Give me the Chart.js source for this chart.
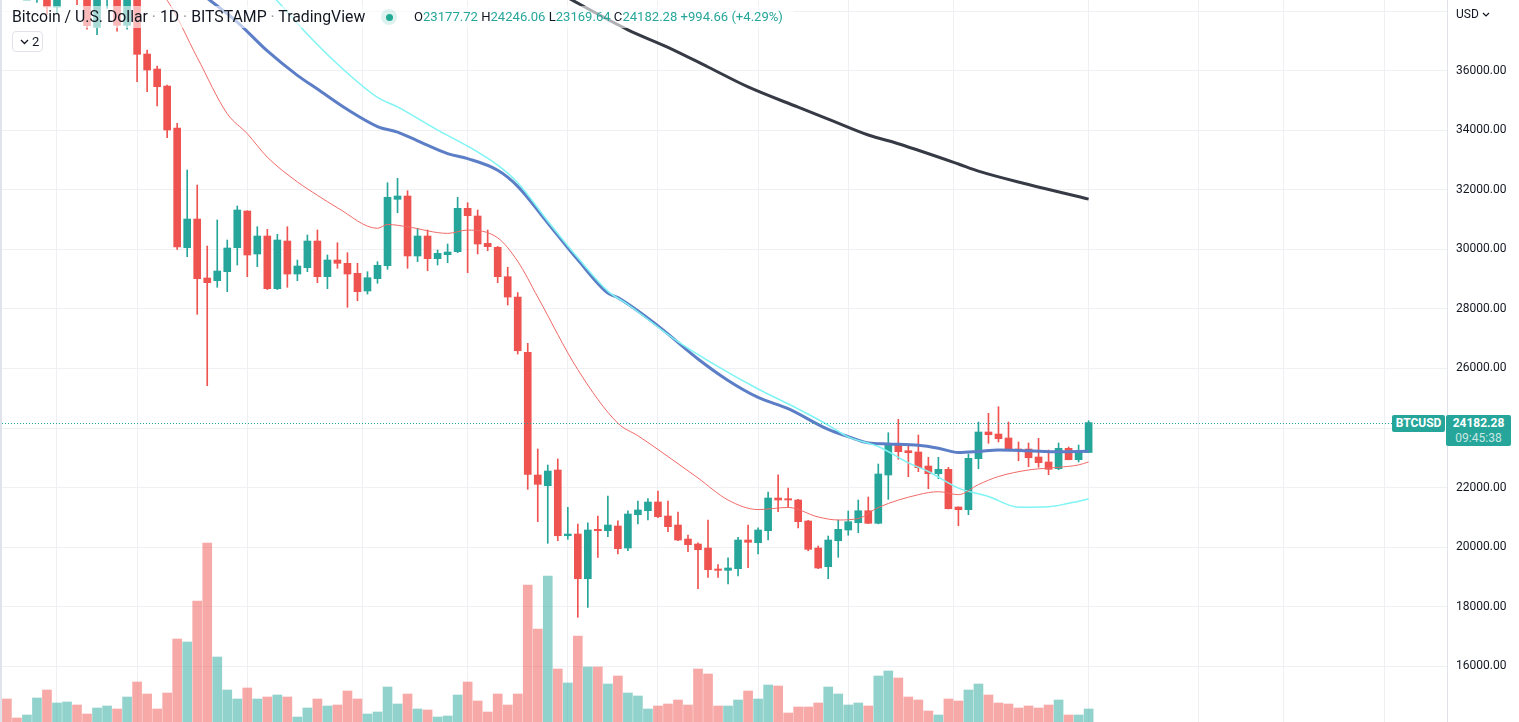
<!DOCTYPE html>
<html>
<head>
<meta charset="utf-8">
<script src="https://cdn.jsdelivr.net/npm/chart.js@4.4.1/dist/chart.umd.min.js"></script>
<style>
    html, body { margin: 0; padding: 0; background: #fff; overflow: hidden; }
    #wrap { position: relative; width: 1519px; height: 722px; font-family: Roboto, "Noto Sans", sans-serif; color: #131722; }
    #btc { position: absolute; left: 2px; top: 0; }
    #edge { position: absolute; left: 0; top: 0; width: 2px; height: 722px; background: #e0e3eb; }
    #legendBg { position: absolute; left: 2px; top: 6px; width: 792px; height: 22px; background: rgba(255,255,255,0.6); }
    #title { position: absolute; left: 12px; top: 5px; line-height: 24px; font-size: 14px; white-space: nowrap; }
    #title .sep { color: #9598a1; }
    #dot { position: absolute; left: 381px; top: 9px; width: 16px; height: 16px; border-radius: 50%; background: rgba(34,171,148,0.15); }
    #dot::after { content: ''; position: absolute; left: 4.5px; top: 4.5px; width: 7px; height: 7px; border-radius: 50%; background: #22ab94; }
    #ohlc { position: absolute; left: 414px; top: 5px; line-height: 24px; font-size: 13px; white-space: nowrap; color: #26a69a; }
    #ohlc .k { color: #131722; }
    #count { position: absolute; left: 12px; top: 31px; width: 29px; height: 19px; border: 1px solid #e0e3eb; border-radius: 4px; background: #fff; font-size: 13px; line-height: 19px; }
    #count svg { position: absolute; left: 7px; top: 7px; }
    #count span { position: absolute; left: 19px; top: 0; }
    #usd { position: absolute; left: 1456px; top: 5px; font-size: 12px; line-height: 18px; }
    #usd svg { margin-left: 3px; vertical-align: 1px; }
    .badge { position: absolute; background: #26a69a; color: #fff; font-size: 12px; font-weight: bold; border-radius: 2px; text-align: center; }
    #symBadge { left: 1392px; width: 53px; height: 17px; line-height: 17px; }
    #priceBadge { left: 1446px; width: 65px; height: 31px; line-height: 15px; padding-top: 1px; box-sizing: border-box; }
    #priceBadge .t { font-weight: normal; color: rgba(255,255,255,0.75); }
</style>
</head>
<body>
<div id="wrap">
    <canvas id="btc" width="1517" height="722"></canvas>
    <div id="edge"></div>
    <div id="legendBg"></div>
    <div id="title">Bitcoin / U.S. Dollar <span class="sep">·</span> 1D <span class="sep">·</span> BITSTAMP <span class="sep">·</span> TradingView</div>
    <div id="dot"></div>
    <div id="ohlc"><span class="k">O</span>23177.72 <span class="k">H</span>24246.06 <span class="k">L</span>23169.64 <span class="k">C</span>24182.28 +994.66 (+4.29%)</div>
    <div id="count"><svg width="9" height="6" viewBox="0 0 9 6"><path d="M1 1l3.5 3.5L8 1" fill="none" stroke="#131722" stroke-width="1.3"/></svg><span>2</span></div>
    <div id="usd">USD<svg width="8" height="5" viewBox="0 0 8 5"><path d="M1 1l3 3 3-3" fill="none" stroke="#131722" stroke-width="1.2"/></svg></div>
    <div id="symBadge" class="badge">BTCUSD</div>
    <div id="priceBadge" class="badge">24182.28<br><span class="t">09:45:38</span></div>
</div>
<script>
// daily candles, BTC/USD Bitstamp, one entry per day (index 0 = first visible day)
const opens = [
    40500, 39700, 39450, 39450, 40400, 38140, 39250, 39750, 38600, 37460,
    38470, 38520, 37530, 39700, 36566, 36062, 35490, 34080, 30058, 31022,
    29040, 28950, 29252, 30058, 31291, 29846, 30451, 28681, 30283, 29174,
    29386, 30283, 29084, 29645, 29534, 29198, 28603, 29017, 29453, 31684,
    31795, 29780, 30451, 29689, 29823, 29924, 31382, 31123, 30206, 30072,
    29084, 28400, 26544, 22421, 22061, 22589, 20381, 20438, 18936, 20596,
    20549, 20707, 19968, 21087, 21221, 21514, 21043, 20741, 20270, 20102,
    19968, 19262, 19218, 19273, 20237, 20146, 20549, 21648, 21625, 21581,
    20875, 19968, 19340, 20213, 20573, 20818, 21221, 20798, 22421, 23429,
    23237, 23194, 22723, 22464, 22612, 21346, 21255, 22969, 23866, 23798,
    23664, 23294, 23294, 23026, 22858, 22632, 23318, 22935, 23177.72
];
const highs = [
    40800, 39900, 39900, 40600, 40800, 39400, 40000, 39900, 38800, 38700,
    39150, 38650, 39900, 39800, 36700, 36163, 35525, 34238, 32669, 32165,
    30115, 30990, 30317, 31459, 31300, 30764, 30676, 30508, 30764, 29645,
    30485, 30653, 29813, 30226, 29890, 29534, 29252, 29588, 32242, 32390,
    31973, 30710, 30653, 29981, 30182, 31752, 31570, 31325, 30653, 30100,
    29400, 28550, 26846, 23294, 22757, 22958, 21335, 20774, 20818, 21043,
    21715, 20885, 21221, 21547, 21625, 21883, 21547, 21178, 20405, 20146,
    20909, 19414, 19642, 20328, 20741, 20650, 21850, 22431, 21984, 21604,
    20900, 20035, 20371, 20909, 21211, 21581, 21682, 22790, 23842, 24292,
    23462, 23765, 23015, 23015, 22680, 21350, 23126, 24202, 24494, 24716,
    24202, 23530, 23496, 23654, 23261, 23496, 23362, 23429, 24246.06
];
const lows = [
    39200, 39300, 39200, 38300, 37900, 37930, 38850, 38220, 37400, 37220,
    38100, 37330, 37400, 35636, 35300, 34820, 33754, 30000, 29756, 27820,
    25421, 28728, 28580, 29477, 29084, 29420, 28650, 28650, 28728, 28950,
    29252, 28882, 28681, 29366, 28055, 28277, 28500, 28862, 29332, 31234,
    29366, 29588, 29285, 29477, 29554, 29890, 29218, 29846, 29957, 28882,
    28133, 26485, 21940, 20852, 20126, 20213, 20260, 17640, 17975, 19649,
    20348, 19766, 19877, 20774, 20909, 20986, 20516, 20213, 19843, 18599,
    18984, 18984, 18758, 19027, 19306, 19766, 20237, 21188, 21335, 20640,
    19877, 19273, 18936, 19655, 20395, 20482, 20790, 20780, 21604, 22948,
    22364, 22532, 21960, 22297, 21280, 20717, 21087, 22632, 23486, 23530,
    23290, 22901, 22700, 22680, 22431, 22600, 22930, 22858, 23169.64
];
const closes = [
    39700, 39450, 39480, 40400, 38150, 39250, 39750, 38600, 37520, 38470,
    38520, 37530, 39700, 36556, 36029, 35468, 34013, 30082, 31022, 29017,
    28882, 29275, 30048, 31325, 29813, 30451, 28681, 30317, 29174, 29443,
    30283, 29084, 29645, 29534, 29174, 28580, 29050, 29467, 31752, 31795,
    29780, 30451, 29689, 29870, 29914, 31382, 31133, 30182, 30092, 29084,
    28400, 26597, 22444, 22108, 22555, 20381, 20438, 18936, 20573, 20549,
    20741, 19945, 21110, 21245, 21514, 21020, 20684, 20237, 20079, 19911,
    19239, 19218, 19296, 20237, 20160, 20573, 21648, 21581, 21581, 20852,
    19924, 19296, 20237, 20596, 20852, 21221, 20798, 22454, 23429, 23204,
    23170, 22666, 22464, 22612, 21288, 21255, 22982, 23866, 23775, 23640,
    23294, 23261, 23002, 22834, 22612, 23318, 22935, 23227, 24182.28
];
// volume, read as bar height (arbitrary units, same scale for all days)
const volumes = [
    23, 4, 7, 24, 32, 19, 20, 17, 8, 14,
    16, 13, 25, 40, 28, 13, 29, 83, 80, 121,
    179, 65, 32, 23, 34, 23, 25, 27, 25, 5,
    14, 23, 16, 17, 31, 23, 8, 10, 35, 18,
    28, 13, 12, 5, 6, 27, 40, 21, 10, 28,
    17, 28, 137, 93, 146, 53, 39, 86, 55, 55,
    38, 46, 29, 26, 13, 16, 18, 22, 17, 53,
    48, 16, 16, 22, 31, 23, 37, 36, 9, 15,
    15, 19, 35, 28, 17, 19, 16, 46, 51, 44,
    25, 22, 11, 7, 23, 21, 32, 38, 27, 19,
    18, 14, 16, 14, 17, 22, 7, 7, 13
];

// moving averages at these day indices
const maRedDays = [15, 16, 19, 22, 24, 26, 29, 31, 33, 37, 38, 40, 44, 46, 49, 51, 53, 57, 61, 63, 65, 69, 72, 75, 78, 81, 83, 85, 87, 91, 93, 95, 97, 99, 102, 105, 107, 108];
const maRedVals = [38700, 38370, 36450, 34560, 33890, 33100, 32270, 31820, 31400, 30710, 30840, 30760, 30540, 30650, 30390, 29600, 28400, 25960, 24160, 23740, 23280, 22320, 21580, 21260, 21330, 21010, 20910, 20960, 21330, 21760, 21860, 21760, 22100, 22370, 22590, 22680, 22760, 22860];

const maBlueDays = [19, 23, 26, 29, 31, 34, 37, 39, 41, 44, 46, 49, 51, 54, 57, 60, 61, 65, 69, 72, 75, 78, 82, 84, 86, 88, 91, 93, 95, 97, 99, 102, 105, 108];
const maBlueVals = [38700, 37640, 36670, 35850, 35390, 34700, 34130, 33940, 33650, 33220, 33050, 32660, 32120, 30890, 29650, 28530, 28380, 27430, 26320, 25600, 25030, 24650, 23950, 23710, 23500, 23462, 23420, 23320, 23175, 23210, 23260, 23235, 23205, 23215];

const maCyanDays = [26, 27, 30, 33, 37, 39, 43, 46, 49, 51, 54, 57, 60, 62, 67, 71, 75, 79, 82, 84, 87, 90, 92, 95, 98, 101, 104, 106, 108];
const maCyanVals = [38700, 38350, 37230, 36230, 35110, 34790, 34010, 33470, 32830, 32240, 30950, 29720, 28600, 28150, 26900, 26060, 25310, 24640, 24100, 23700, 23380, 22830, 22540, 21980, 21700, 21340, 21356, 21470, 21614];

const maDarkDays = [55, 62, 66, 70, 74, 79, 82, 86, 89, 95, 97, 102, 108];
const maDarkVals = [38640, 37380, 36790, 36130, 35460, 34780, 34380, 33845, 33550, 32870, 32630, 32180, 31690];

const priceTicks = [16000, 18000, 20000, 22000, 24000, 26000, 28000, 30000, 32000, 34000, 36000, 38000];
const gridDays = [9, 17, 31, 40, 52, 60, 70, 80, 88, 101, 115, 123, 132, 143];

const UP = '#26a69a';
const DOWN = '#ef5350';
const UP_VOL = 'rgba(38,166,154,0.5)';
const DOWN_VOL = 'rgba(239,83,80,0.5)';
const GRID = '#eef0f4';

function isUp(i) {
    return closes[i] >= opens[i];
}

function points(days, vals) {
    return days.map((d, k) => ({ x: d, y: vals[k] }));
}

function maLine(label, days, vals, color, width, order) {
    return {
        type: 'line',
        label: label,
        data: points(days, vals),
        borderColor: color,
        borderWidth: width,
        pointRadius: 0,
        cubicInterpolationMode: 'monotone',
        order: order
    };
}

// no label padding: the plot has to fill the whole canvas height
function noPadding(scale) {
    scale.paddingTop = 0;
    scale.paddingBottom = 0;
    scale.paddingLeft = 0;
    scale.paddingRight = 0;
}

// shrink/grow a legend line's font until it spans the wanted width
function fitWidth(id, target) {
    const el = document.getElementById(id);
    let size = parseFloat(getComputedStyle(el).fontSize);
    for (let k = 0; k < 4; k++) {
        const w = el.getBoundingClientRect().width;
        if (!w) break;
        size = size * target / w;
        el.style.fontSize = size.toFixed(2) + 'px';
    }
}
fitWidth('title', 353);
fitWidth('ohlc', 369);

const wickData = lows.map((lo, i) => ({ x: i, y: [lo, highs[i]] }));
const bodyData = opens.map((o, i) => ({ x: i, y: [o, closes[i]] }));
const volData = volumes.map((v, i) => ({ x: i, y: v }));

// dotted last price line + badge placement
const lastPricePlugin = {
    id: 'lastPrice',
    afterDraw(chart) {
        const ctx = chart.ctx;
        const y = Math.round(chart.scales.y.getPixelForValue(closes[closes.length - 1])) + 0.5;
        ctx.save();
        ctx.strokeStyle = UP;
        ctx.lineWidth = 1;
        ctx.setLineDash([1, 2]);
        ctx.beginPath();
        ctx.moveTo(chart.chartArea.left, y);
        ctx.lineTo(1390, y);
        ctx.stroke();
        ctx.restore();

        document.getElementById('symBadge').style.top = (y - 8.5) + 'px';
        document.getElementById('priceBadge').style.top = (y - 8.5) + 'px';
    }
};

new Chart(document.getElementById('btc'), {
    type: 'bar',
    data: {
        datasets: [
            maLine('MA 200', maDarkDays, maDarkVals, '#363a45', 3, 1),
            maLine('MA 20', maRedDays, maRedVals, '#f06967', 1, 2),
            maLine('MA 50 ema', maCyanDays, maCyanVals, '#7ff4f4', 1.5, 3),
            maLine('MA 50', maBlueDays, maBlueVals, '#5b7ec6', 3, 4),
            {
                label: 'body',
                data: bodyData,
                grouped: false,
                barThickness: 7,
                minBarLength: 1,
                backgroundColor: ctx => isUp(ctx.dataIndex) ? UP : DOWN,
                order: 5
            },
            {
                label: 'wick',
                data: wickData,
                grouped: false,
                barThickness: 1,
                backgroundColor: ctx => isUp(ctx.dataIndex) ? UP : DOWN,
                order: 6
            },
            {
                label: 'volume',
                data: volData,
                yAxisID: 'yv',
                grouped: false,
                barThickness: 9,
                backgroundColor: ctx => isUp(ctx.dataIndex) ? UP_VOL : DOWN_VOL,
                order: 7
            }
        ]
    },
    options: {
        responsive: false,
        animation: false,
        layout: { padding: 0 },
        plugins: {
            legend: { display: false },
            tooltip: { enabled: false }
        },
        scales: {
            x: {
                type: 'linear',
                min: -0.49,
                max: 143.78,
                offset: false,
                afterBuildTicks: scale => { scale.ticks = gridDays.map(v => ({ value: v })); },
                afterFit: scale => { scale.height = 0; noPadding(scale); },
                ticks: { display: false, padding: 0 },
                grid: { color: GRID, drawTicks: false },
                border: { display: false }
            },
            y: {
                position: 'right',
                min: 14122,
                max: 38381,
                afterBuildTicks: scale => { scale.ticks = priceTicks.map(v => ({ value: v })); },
                afterFit: scale => { scale.width = 72; noPadding(scale); },
                ticks: {
                    padding: 9,
                    color: '#131722',
                    font: { family: 'Roboto, "Noto Sans", sans-serif', size: 12 },
                    callback: v => v === 38000 ? '' : v.toFixed(2)
                },
                grid: { color: GRID, drawTicks: false },
                border: { color: '#dfe2ea' }
            },
            yv: {
                display: false,
                min: 0,
                max: 722
            }
        }
    },
    plugins: [lastPricePlugin]
});
</script>
</body>
</html>
